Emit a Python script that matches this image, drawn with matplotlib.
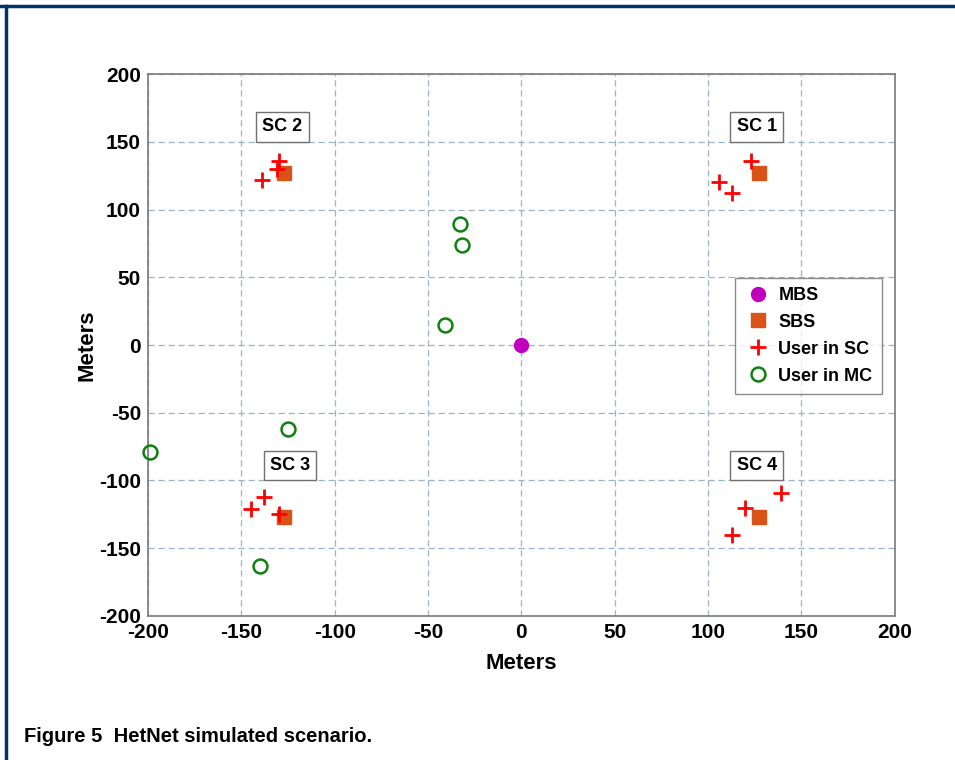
import matplotlib.pyplot as plt

plt.rcParams['font.family'] = ['Liberation Sans', 'DejaVu Sans']
plt.rcParams['axes.unicode_minus'] = False

# macro base station
mbs_x = [0]
mbs_y = [0]

# small base stations
sbs_x = [127, -127, -127, 127]
sbs_y = [127, 127, -127, -127]

# users attached to small cells (SC1, SC2, SC3, SC4)
sc_user_x = [123, 106, 113, -130, -131, -139, -145, -138, -130, 139, 120, 113]
sc_user_y = [136, 120, 112, 136, 130, 122, -121, -112, -125, -109, -120, -140]

# users attached to the macro cell
mc_user_x = [-33, -32, -41, -125, -199, -140]
mc_user_y = [89, 74, 15, -62, -79, -163]

# cell labels
cell_names = ['SC 1', 'SC 2', 'SC 3', 'SC 4']
cell_label_x = [126, -128, -124, 126]
cell_label_y = [161, 161, -89, -89]

ticks = [-200, -150, -100, -50, 0, 50, 100, 150, 200]

fig = plt.figure(figsize=(9.55, 7.6), dpi=100)
ax = fig.add_axes([0.155, 0.1895, 0.782, 0.7131])

ax.plot(mbs_x, mbs_y, 'o', color='#bf00bf', markersize=10, label='MBS', zorder=4)
ax.plot(sbs_x, sbs_y, 's', color='#d95319', markersize=9.5, label='SBS', zorder=3)
ax.plot(sc_user_x, sc_user_y, '+', color='#ff0000', markersize=11, markeredgewidth=2,
        label='User in SC', zorder=4)
ax.plot(mc_user_x, mc_user_y, 'o', markerfacecolor='none', markeredgecolor='#108010',
        markersize=10, markeredgewidth=1.8, label='User in MC', zorder=4, clip_on=False)

for name, lx, ly in zip(cell_names, cell_label_x, cell_label_y):
    ax.text(lx, ly, name, fontsize=13, fontweight='bold', ha='center', va='center',
            bbox=dict(boxstyle='square,pad=0.35', facecolor='white', edgecolor='#707070', lw=1))

ax.set_xlim(-200, 200)
ax.set_ylim(-200, 200)
ax.set_xticks(ticks)
ax.set_yticks(ticks)
ax.tick_params(length=0, labelsize=15, pad=5)
for lab in ax.get_xticklabels() + ax.get_yticklabels():
    lab.set_fontweight('bold')
ax.grid(True, color='#9db3c6', linestyle=(0, (5, 3)), linewidth=0.9)
ax.set_axisbelow(True)
for sp in ax.spines.values():
    sp.set_color('#7a7a7a')
    sp.set_linewidth(1.2)

ax.set_xlabel('Meters', fontsize=16, fontweight='bold', labelpad=8)
ax.set_ylabel('Meters', fontsize=16, fontweight='bold', labelpad=1)

leg = ax.legend(loc='upper left', bbox_to_anchor=(0.786, 0.624),
                prop={'weight': 'bold', 'size': 13}, frameon=True, fancybox=False,
                borderpad=0.5, labelspacing=0.55, handletextpad=0.4, handlelength=1.5,
                borderaxespad=0)
leg.get_frame().set_edgecolor('#707070')
leg.get_frame().set_linewidth(1)

# page border and caption
fig.add_artist(plt.Line2D([0, 1], [1 - 6 / 760, 1 - 6 / 760], color='#003366', lw=2.5))
fig.add_artist(plt.Line2D([6 / 955, 6 / 955], [0, 1 - 6 / 760], color='#003366', lw=2.5))
fig.text(24 / 955, 1 - 737 / 760, 'Figure 5  HetNet simulated scenario.', fontsize=14.5,
         fontweight='bold', va='center', ha='left')

fig.savefig('out.png', dpi=100)
